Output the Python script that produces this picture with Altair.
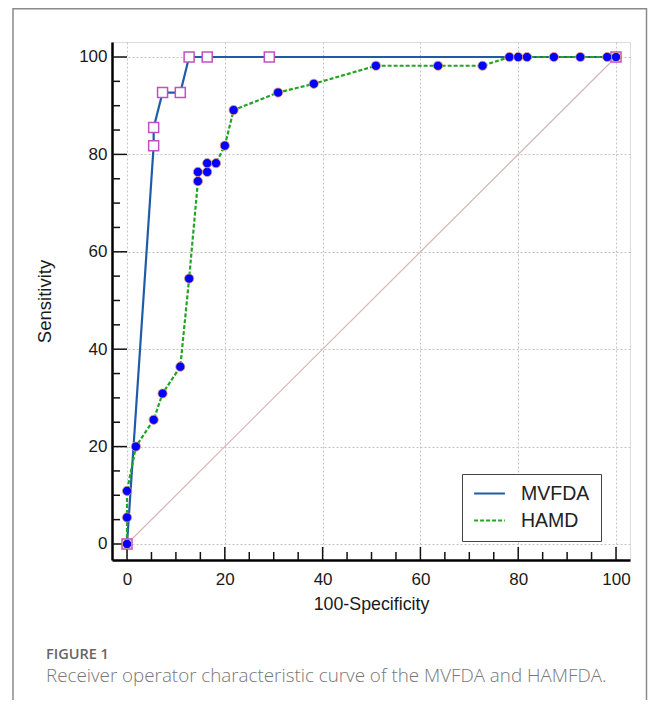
import altair as alt
import pandas as pd

# ---- data ----
series_names = ["MVFDA", "HAMD"]

mv_x = [0, 5.45, 5.45, 7.27, 10.9, 12.7, 16.4, 29.1, 100]
mv_y = [0, 81.8, 85.5, 92.7, 92.7, 100, 100, 100, 100]

ha_x = [0, 0, 0, 1.82, 5.45, 7.27, 10.9, 12.7, 14.5, 14.5, 16.4, 16.4, 18.2, 20.0,
        21.8, 30.9, 38.2, 50.9, 63.6, 72.7, 78.2, 80.0, 81.8, 87.3, 92.7, 98.2, 100]
ha_y = [0, 5.45, 10.9, 20.0, 25.5, 30.9, 36.4, 54.5, 74.5, 76.4, 76.4, 78.2, 78.2, 81.8,
        89.1, 92.7, 94.5, 98.2, 98.2, 98.2, 100, 100, 100, 100, 100, 100, 100]

diag_x = [0, 100]
diag_y = [0, 100]

major_ticks = [0, 20, 40, 60, 80, 100]
minor_ticks = [5, 10, 15, 25, 30, 35, 45, 50, 55, 65, 70, 75, 85, 90, 95]

caption_head = "FIGURE 1"
caption_text = "Receiver operator characteristic curve of the MVFDA and HAMFDA."

# ---- tables ----
mv = pd.DataFrame({"x": mv_x, "y": mv_y, "series": "MVFDA", "i": range(len(mv_x))})
ha = pd.DataFrame({"x": ha_x, "y": ha_y, "series": "HAMD", "i": range(len(ha_x))})
diag = pd.DataFrame({"x": diag_x, "y": diag_y})
xt_major = pd.DataFrame({"x": major_ticks})
xt_minor = pd.DataFrame({"x": minor_ticks})
yt_major = pd.DataFrame({"y": major_ticks})
yt_minor = pd.DataFrame({"y": minor_ticks})
one = pd.DataFrame({"k": [0]})

W, H = 518, 518
FONT = "Liberation Sans"

xscale = alt.Scale(domain=[-3.07, 102.86], nice=False, zero=False)
yscale = alt.Scale(domain=[-3.29, 103.08], nice=False, zero=False)

xaxis = alt.Axis(values=major_ticks, title="100-Specificity", ticks=False, tickSize=0,
                 labelPadding=11, labelFontSize=17, labelFont=FONT, labelColor="#1a1a1a",
                 titleFont=FONT, titleFontSize=17.8, titleFontWeight="normal", titleColor="#1a1a1a",
                 titlePadding=8, domainColor="#000", domainWidth=2.5,
                 grid=True, gridDash=[2, 2], gridColor="#c4c4c4", gridWidth=1)
yaxis = alt.Axis(values=major_ticks, title="Sensitivity", ticks=False, tickSize=0,
                 labelPadding=5, labelFontSize=17, labelFont=FONT, labelColor="#1a1a1a",
                 titleFont=FONT, titleFontSize=18.5, titleFontWeight="normal", titleColor="#1a1a1a",
                 titlePadding=24, domainColor="#000", domainWidth=2.5,
                 grid=True, gridDash=[2, 2], gridColor="#c4c4c4", gridWidth=1)

color_scale = alt.Scale(domain=series_names, range=["#1f5ca8", "#22a522"])
dash_scale = alt.Scale(domain=series_names, range=[[1, 0], [4, 2]])
legend = alt.Legend(title=None, orient="none", legendX=350, legendY=432,
                    symbolType="stroke", symbolSize=950, symbolStrokeWidth=2,
                    labelFont=FONT, labelFontSize=19.5, labelColor="#222", labelOffset=15,
                    padding=11, rowPadding=7, clipHeight=17,
                    strokeColor="#444", fillColor="white")

base_x = alt.X("x:Q", scale=xscale, axis=xaxis)
base_y = alt.Y("y:Q", scale=yscale, axis=yaxis)

# frame around the figure (decoration)
frame = alt.Chart(one).mark_rect(
    fill=None, stroke="#8a8a8a", strokeWidth=1.5, clip=False
).encode(x=alt.value(-99), x2=alt.value(534.5), y=alt.value(-33.2), y2=alt.value(665))

cap1 = alt.Chart(one).mark_text(
    align="left", baseline="alphabetic", font="Open Sans", fontSize=14.5,
    fontWeight=600, color="#666"
).encode(x=alt.value(-66), y=alt.value(617), text=alt.value(caption_head))
cap2 = alt.Chart(one).mark_text(
    align="left", baseline="alphabetic", font="Open Sans", fontSize=18.8,
    fontWeight=300, color="#777"
).encode(x=alt.value(-66), y=alt.value(640), text=alt.value(caption_text))

diag_layer = alt.Chart(diag).mark_line(color="#d9b3b3", strokeWidth=1.2).encode(x=base_x, y=base_y)

ytick_major = alt.Chart(yt_major).mark_rule(color="#111", strokeWidth=1.5).encode(
    y=alt.Y("y:Q", scale=yscale, axis=yaxis), x=alt.value(0), x2=alt.value(15))
ytick_minor = alt.Chart(yt_minor).mark_rule(color="#111", strokeWidth=1.5).encode(
    y=alt.Y("y:Q", scale=yscale, axis=yaxis), x=alt.value(0), x2=alt.value(8))
xtick_major = alt.Chart(xt_major).mark_rule(color="#111", strokeWidth=1.5).encode(
    x=alt.X("x:Q", scale=xscale, axis=xaxis), y=alt.value(H), y2=alt.value(H - 13))
xtick_minor = alt.Chart(xt_minor).mark_rule(color="#111", strokeWidth=1.5).encode(
    x=alt.X("x:Q", scale=xscale, axis=xaxis), y=alt.value(H), y2=alt.value(H - 8))

mv_line = alt.Chart(mv).mark_line(strokeWidth=2.2).encode(
    x=base_x, y=base_y, order=alt.Order("i:Q"),
    color=alt.Color("series:N", scale=color_scale, legend=legend),
    strokeDash=alt.StrokeDash("series:N", scale=dash_scale, legend=legend))
mv_pts = alt.Chart(mv).mark_square(size=100, fill="white", stroke="#c050c0",
                                   strokeWidth=1.5, opacity=1).encode(x=base_x, y=base_y)
ha_line = alt.Chart(ha).mark_line(strokeWidth=2.2).encode(
    x=base_x, y=base_y, order=alt.Order("i:Q"),
    color=alt.Color("series:N", scale=color_scale, legend=legend),
    strokeDash=alt.StrokeDash("series:N", scale=dash_scale, legend=legend))
ha_pts = alt.Chart(ha).mark_circle(size=85, fill="#0000ff", stroke="#e8a070",
                                   strokeWidth=0.8, opacity=1).encode(x=base_x, y=base_y)

chart = alt.layer(
    frame, cap1, cap2, diag_layer, ytick_major, ytick_minor, xtick_major, xtick_minor,
    mv_line, mv_pts, ha_line, ha_pts
).properties(
    width=W, height=H,
    autosize=alt.AutoSizeParams(type="none"),
    padding={"left": 104, "top": 34, "right": 18, "bottom": 140},
).configure_view(stroke=None).configure(background="white")

chart.save("out.html", embed_options={"renderer": "svg", "actions": False})
